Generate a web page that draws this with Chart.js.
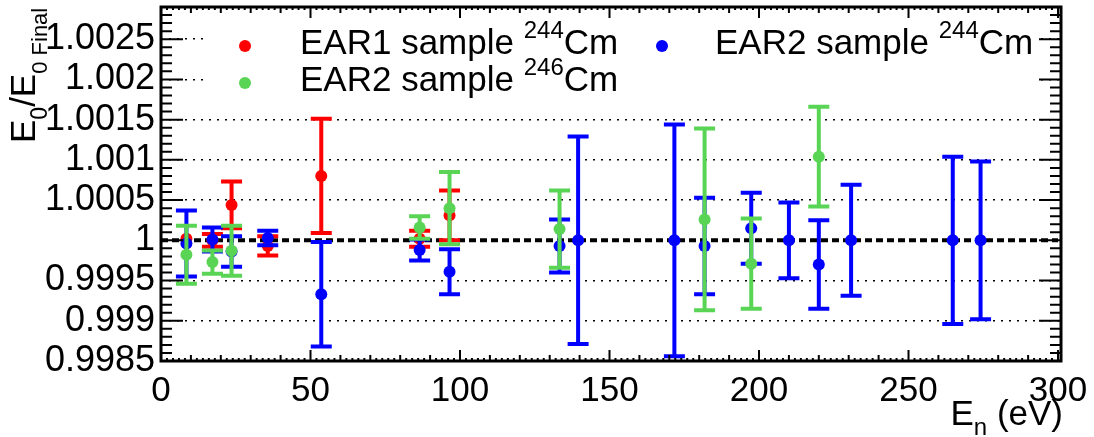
<!DOCTYPE html>
<html>
<head>
<meta charset="utf-8">
<script src="https://cdn.jsdelivr.net/npm/chart.js@4.4.0/dist/chart.umd.min.js"></script>
<style>
  html, body { margin: 0; padding: 0; background: #fff; }
  #wrap { width: 1094px; height: 437px; }
</style>
</head>
<body>
<div id="wrap"><canvas id="chart" width="1094" height="437"></canvas></div>
<script>
// ---- data ----
// EAR1 sample 244Cm (red)
const ear1X   = [8.5, 17.2, 23.6, 35.7, 53.6, 86.5, 96.5];
const ear1Y   = [1.00002, 1.00000, 1.00044, 0.99993, 1.00080, 1.00002, 1.00031];
const ear1Err = [0, 0.00008, 0.00029, 0.00012, 0.00071, 0.00010, 0.00031];

// EAR2 sample 244Cm (blue)
const ear2aX   = [8.5, 17.2, 23.6, 35.7, 53.6, 86.5, 96.5, 133.3, 139.5, 171.7, 181.8, 197.4, 210.0, 220.0, 230.8, 264.8, 274.1];
const ear2aY   = [0.99996, 1.00001, 0.99986, 1.00003, 0.99933, 0.99988, 0.99961, 0.99993, 1.00000, 1.00000, 0.99993, 1.00015, 1.00000, 0.99970, 1.00000, 1.00000, 1.00000];
const ear2aErr = [0.00041, 0.00015, 0.00019, 0.00009, 0.00065, 0.00013, 0.00028, 0.00033, 0.00129, 0.00144, 0.00060, 0.00044, 0.00047, 0.00055, 0.00069, 0.00104, 0.00098];

// EAR2 sample 246Cm (green)
const ear2bX   = [8.5, 17.2, 23.6, 86.5, 96.5, 133.3, 181.8, 197.4, 220.0];
const ear2bY   = [0.99982, 0.99973, 0.99987, 1.00016, 1.00040, 1.00014, 1.00026, 0.99971, 1.00104];
const ear2bErr = [0.00036, 0.000145, 0.00031, 0.00014, 0.00045, 0.00048, 0.00113, 0.00056, 0.00062];

// reference line at 1
const refX = [0, 300];
const refY = [1, 1];

// axes
const xTicks = [0, 50, 100, 150, 200, 250, 300];
const xTickLabels = ['0', '50', '100', '150', '200', '250', '300'];
const yTicks = [0.9985, 0.999, 0.9995, 1, 1.0005, 1.001, 1.0015, 1.002, 1.0025];
const yTickLabels = ['0.9985', '0.999', '0.9995', '1', '1.0005', '1.001', '1.0015', '1.002', '1.0025'];

const RED = '#ff0000', BLUE = '#0000ff', GREEN = '#59d454';
const FONT = "'Liberation Sans', Arial, Helvetica, sans-serif";

const pts = (xs, ys) => xs.map((x, i) => ({ x, y: ys[i] }));

// =======================
// Error bars (drawn just before each dataset's markers)
// =======================
const errorBars = {
  id: 'errorBars',
  beforeDatasetDraw(chart, args) {
    const ds = chart.data.datasets[args.index];
    if (!ds.errors) return;
    const { ctx, scales: { x, y } } = chart;
    ctx.save();
    ctx.strokeStyle = ds.backgroundColor;
    ctx.lineWidth = 4;
    ds.data.forEach((p, i) => {
      if (!(ds.errors[i] > 0)) return;
      const px = x.getPixelForValue(p.x);
      const top = y.getPixelForValue(p.y + ds.errors[i]);
      const bot = y.getPixelForValue(p.y - ds.errors[i]);
      ctx.beginPath();
      ctx.moveTo(px, top); ctx.lineTo(px, bot);
      ctx.moveTo(px - 10.5, top); ctx.lineTo(px + 10.5, top);
      ctx.moveTo(px - 10.5, bot); ctx.lineTo(px + 10.5, bot);
      ctx.stroke();
    });
    ctx.restore();
  }
};

// =======================
// Legend box with superscripts
// =======================
function textWithSup(ctx, x, y, parts) {
  parts.forEach(([txt, size, dy]) => {
    ctx.font = size + 'px ' + FONT;
    ctx.fillText(txt, x, y + dy);
    x += ctx.measureText(txt).width;
  });
  return x;
}

const rootLegend = {
  id: 'rootLegend',
  afterDatasetsDraw(chart) {
    const ctx = chart.ctx;
    ctx.save();
    ctx.fillStyle = '#fff';
    ctx.fillRect(205, 12, 833, 88);
    const entries = [
      { color: RED,   dx: 245, tx: 300, y: 46, iso: '244', label: 'EAR1 sample ' },
      { color: BLUE,  dx: 662, tx: 715, y: 46, iso: '244', label: 'EAR2 sample ' },
      { color: GREEN, dx: 245, tx: 300, y: 83, iso: '246', label: 'EAR2 sample ' }
    ];
    entries.forEach(e => {
      ctx.fillStyle = e.color;
      ctx.beginPath();
      ctx.arc(e.dx, e.y, 6, 0, Math.PI * 2);
      ctx.fill();
      ctx.fillStyle = '#000';
      ctx.textBaseline = 'alphabetic';
      ctx.textAlign = 'left';
      textWithSup(ctx, e.tx, e.y + 8, [[e.label, 35, 0], [e.iso, 24, -16], ['Cm', 35, 0]]);
    });
    ctx.restore();
  }
};

// =======================
// ROOT-like frame, inward ticks and axis titles
// =======================
const rootFrame = {
  id: 'rootFrame',
  afterDraw(chart) {
    const { ctx, chartArea: a, scales: { x, y } } = chart;
    ctx.save();
    ctx.strokeStyle = '#000';
    ctx.lineWidth = 2;
    ctx.beginPath();
    for (let v = 0; v <= x.max; v += 2) {
      const len = v % 50 === 0 ? 11 : (v % 10 === 0 ? 6 : 3);
      const px = x.getPixelForValue(v);
      ctx.moveTo(px, a.bottom); ctx.lineTo(px, a.bottom - len);
      ctx.moveTo(px, a.top); ctx.lineTo(px, a.top + len);
    }
    for (let k = 0; ; k++) {
      const v = y.min + k * 0.0001;
      if (v > y.max + 1e-9) break;
      const len = k % 5 === 0 ? 22 : 11;
      const py = y.getPixelForValue(v);
      ctx.moveTo(a.left, py); ctx.lineTo(a.left + len, py);
      ctx.moveTo(a.right, py); ctx.lineTo(a.right - len, py);
    }
    ctx.stroke();
    ctx.lineWidth = 3;
    ctx.strokeRect(a.left, a.top, a.right - a.left, a.bottom - a.top);

    // x title: E_n (eV), right aligned to the frame
    ctx.fillStyle = '#000';
    ctx.textBaseline = 'alphabetic';
    ctx.textAlign = 'left';
    const xParts = [['E', 35, 0], ['n', 24, 10], [' (eV)', 35, 0]];
    let w = 0;
    xParts.forEach(([t, s]) => { ctx.font = s + 'px ' + FONT; w += ctx.measureText(t).width; });
    textWithSup(ctx, a.right + 2 - w, 425, xParts);

    // y title: E_0/E_0 Final, rotated, aligned to top
    ctx.translate(35, 143);
    ctx.rotate(-Math.PI / 2);
    textWithSup(ctx, 0, 0, [['E', 35, 0], ['0', 23, 12], ['/E', 35, 0], ['0 Final', 22, 12]]);
    ctx.restore();
  }
};

window.onload = () => {
  new Chart(document.getElementById('chart'), {
    type: 'scatter',
    data: {
      datasets: [
        { label: 'EAR2 sample 246Cm', data: pts(ear2bX, ear2bY), errors: ear2bErr,
          backgroundColor: GREEN, borderWidth: 0, pointRadius: 6, order: 1 },
        { label: 'EAR2 sample 244Cm', data: pts(ear2aX, ear2aY), errors: ear2aErr,
          backgroundColor: BLUE, borderWidth: 0, pointRadius: 6, order: 2 },
        { label: 'EAR1 sample 244Cm', data: pts(ear1X, ear1Y), errors: ear1Err,
          backgroundColor: RED, borderWidth: 0, pointRadius: 6, order: 3 },
        { label: 'ref', data: pts(refX, refY), showLine: true, borderColor: '#000',
          borderWidth: 4, borderDash: [7, 4], pointRadius: 0, order: 10 }
      ]
    },
    options: {
      responsive: false,
      animation: false,
      devicePixelRatio: 1,
      layout: { padding: { top: 7, right: 33, left: 0, bottom: 0 } },
      plugins: { legend: { display: false }, tooltip: { enabled: false } },
      scales: {
        x: {
          type: 'linear', min: 0, max: 301,
          afterBuildTicks: s => { s.ticks = xTicks.map(v => ({ value: v })); },
          afterFit: s => { s.height = 76; s.paddingLeft = 0; s.paddingRight = 0; },
          grid: { display: false },
          border: { display: false },
          ticks: {
            autoSkip: false, maxRotation: 0, padding: 1, color: '#000',
            font: { family: FONT, size: 35 },
            callback: (v, i) => xTickLabels[i]
          }
        },
        y: {
          type: 'linear', min: 0.9985, max: 1.0029,
          afterBuildTicks: s => { s.ticks = yTicks.map(v => ({ value: v })); },
          afterFit: s => { s.width = 161; s.paddingTop = 0; s.paddingBottom = 0; },
          grid: {
            drawTicks: false, lineWidth: 1.5,
            color: c => (c.tick && (c.tick.value === 1 || c.tick.value === 0.9985)) ? 'rgba(0,0,0,0)' : '#000'
          },
          border: { display: false, dash: [2, 6] },
          ticks: {
            autoSkip: false, padding: 6, color: '#000',
            font: { family: FONT, size: 36 },
            callback: (v, i) => yTickLabels[i]
          }
        }
      }
    },
    plugins: [errorBars, rootLegend, rootFrame]
  });
};
</script>
</body>
</html>
